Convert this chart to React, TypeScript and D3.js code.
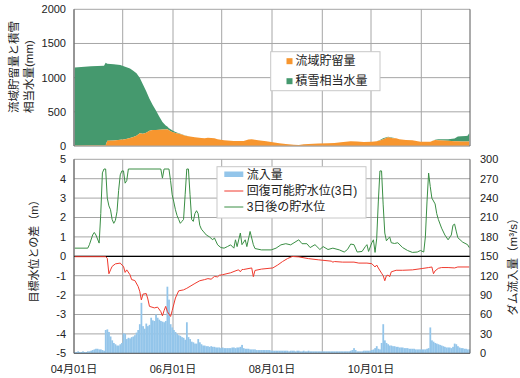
import React from 'react';
import * as d3 from 'd3';

// Day offsets are counted from 04/01; the axis runs through 11/30.
const seasonStart = new Date(2021, 3, 1);
const seasonEnd = new Date(2021, 11, 1);

// Catchment storage and snow water equivalent (mm), shared day list
const topDays = [0, 10, 18, 19, 20, 24, 28, 31, 34, 36, 38, 40, 42, 44, 46, 48, 50, 52, 54, 56, 57, 58, 60, 62, 64, 66, 68, 71, 74, 78, 80, 82, 84, 86, 88, 92, 98, 104, 107, 109, 111, 113, 118, 122, 126, 130, 135, 138, 141, 144, 150, 156, 160, 164, 170, 174, 178, 183, 186, 188, 190, 193, 196, 198, 200, 204, 208, 213, 219, 222, 224, 227, 230, 234, 236, 238, 241, 242, 243];
const storage = [5, 6, 8, 10, 78, 80, 90, 100, 118, 133, 150, 185, 180, 195, 224, 234, 235, 237, 240, 243, 245, 230, 205, 190, 178, 168, 150, 140, 127, 117, 112, 121, 118, 112, 100, 83, 73, 73, 95, 98, 90, 85, 70, 54, 40, 29, 17, 15, 25, 29, 37, 39, 45, 54, 68, 66, 60, 62, 70, 80, 100, 127, 115, 112, 100, 88, 83, 61, 61, 88, 85, 79, 75, 70, 68, 66, 65, 65, 65];
const snow = [1145, 1160, 1167, 1208, 1125, 1117, 1095, 1060, 1017, 967, 913, 815, 720, 605, 466, 366, 285, 193, 110, 57, 40, 30, 25, 15, 10, 5, 2, 0, 0, 0, 0, 0, 0, 0, 0, 0, 0, 0, 0, 0, 0, 0, 0, 0, 0, 0, 0, 0, 0, 0, 0, 0, 0, 0, 0, 0, 0, 0, 0, 8, 12, 8, 5, 0, 0, 0, 0, 0, 0, 5, 15, 20, 22, 40, 70, 75, 80, 85, 120];

// Daily dam inflow (m³/s), one value per day from 04/01
const inflow = [
  2, 2, 3, 2, 2, 3, 2, 2, 3, 3,
  4, 5, 6, 7, 7, 6, 6, 5, 4,
  36, 37, 33,
  26, 20, 16, 14, 12, 12, 14, 16,
  31, 30, 22, 24, 23, 25, 26, 28, 32, 36,
  45, 78, 42, 38, 46, 42, 44, 55, 51, 50,
  60, 55, 52, 50, 49, 48, 50, 103, 83, 45,
  40, 36, 33, 30, 28, 27, 25, 24, 21, 48,
  25, 22, 18, 17, 15, 15, 22, 17, 14, 12,
  12, 11, 11, 10, 11, 10, 10, 9, 9, 9,
  8, 9, 8, 8, 8, 8, 8, 9, 9, 8,
  9, 9, 10, 13, 8, 7, 7, 7, 6, 6,
  6, 6, 5, 5, 5, 5, 5, 5, 5, 5,
  5, 4, 4, 4, 4, 4, 4, 4, 4, 4,
  4, 4, 3, 4, 4, 4, 3, 4, 4, 3,
  3, 4, 3, 3, 4, 3, 3, 3, 3, 3,
  3, 3, 3, 3, 3, 3, 3, 3, 3, 3,
  3, 3, 3, 3, 3, 3, 3, 3, 3, 3,
  4, 5, 8, 5, 3, 3, 3, 3, 4, 4,
  4, 4, 4, 5, 6, 8, 11, 7, 6, 16,
  45, 20, 16, 14, 12, 12, 11, 11, 10, 10,
  9, 9, 9, 8, 8, 8, 7, 7, 7, 7,
  6, 6, 6, 6, 6, 6, 6, 7, 8, 40,
  20, 18, 16, 15, 14, 13, 12, 11, 10, 9,
  9, 9, 8, 10, 15, 14, 11, 9, 8, 8,
  7, 7, 6, 6,
];

// Water level three days ahead, relative to the target level (m)
const levelDays = [0, 8, 9, 11, 12, 13, 15, 16, 17, 18, 19, 20, 21, 22, 23, 24, 25, 26, 27, 28, 29, 30, 31, 32, 33, 53, 54, 55, 58, 59, 60, 61, 62, 63, 64, 65, 66, 67, 68, 69, 70, 71, 72, 73, 74, 75, 76, 77, 78, 79, 80, 81, 83, 85, 86, 88, 90, 92, 94, 96, 98, 99, 100, 102, 103, 105, 106, 108, 110, 111, 115, 121, 124, 127, 130, 133, 138, 140, 143, 145, 148, 151, 153, 156, 159, 163, 166, 168, 170, 172, 174, 177, 179, 180, 181, 183, 184, 185, 186, 187, 188, 189, 190, 191, 192, 193, 194, 195, 197, 199, 202, 205, 208, 211, 213, 215, 216, 217, 218, 219, 220, 222, 223, 224, 226, 228, 230, 232, 233, 234, 235, 236, 239, 242, 243];
const levelIn3Days = [0.42, 0.42, 0.6, 1.1, 1.23, 1.1, 0.68, 2.2, 4.3, 4.5, 4.5, 3.0, 2.6, 2.4, 1.9, 1.7, 1.85, 2.3, 3.4, 4.2, 4.4, 4.4, 3.77, 3.9, 4.5, 4.5, 4.03, 4.5, 4.5, 3.9, 3.17, 2.8, 2.4, 2.1, 1.9, 1.7, 1.8, 1.9, 3.2, 4.5, 4.5, 3.17, 1.9, 1.8, 2.2, 2.35, 2.2, 1.6, 1.4, 1.3, 1.2, 1.1, 1.0, 0.85, 0.95, 0.59, 0.45, 0.42, 0.5, 0.59, 0.42, 0.85, 0.5, 1.2, 0.6, 0.85, 0.5, 1.28, 0.6, 0.4, 0.33, 0.33, 0.42, 0.59, 0.65, 0.59, 0.85, 0.65, 0.65, 0.45, 0.6, 0.35, 0.5, 0.35, 0.42, 0.33, 0.22, 0.35, 0.63, 0.6, 0.22, 0.25, 0.5, 0.6, 0.25, 0.7, 0.85, 0.2, 0.9, 2.8, 4.4, 4.4, 2.65, 1.2, 0.8, 0.9, 1.0, 0.7, 0.66, 0.7, 0.45, 0.3, 0.2, 0.22, 0.3, 0.22, 1.0, 2.8, 4.29, 3.6, 3.0, 2.7, 2.2, 1.9, 1.45, 1.1, 0.85, 1.1, 1.6, 1.66, 1.3, 0.96, 0.73, 0.6, 0.45];

// Recoverable water level within three days, relative to the target level (m)
const recoverDays = [0, 19, 20, 21, 22, 23, 25, 28, 29, 30, 31, 32, 34, 35, 37, 39, 40, 41, 42, 44, 45, 46, 49, 51, 53, 54, 55, 56, 57, 59, 60, 62, 64, 67, 69, 71, 74, 77, 80, 82, 84, 86, 88, 89, 91, 96, 100, 101, 102, 103, 104, 109, 110, 111, 115, 122, 125, 128, 131, 134, 138, 144, 150, 158, 159, 160, 165, 172, 175, 180, 183, 185, 186, 187, 189, 190, 191, 192, 193, 194, 195, 198, 202, 208, 214, 218, 220, 221, 222, 224, 226, 230, 234, 236, 243];
const recoverable = [-0.02, -0.02, -0.1, -0.9, -0.7, -0.52, -0.39, -0.35, -0.45, -0.52, -0.83, -0.7, -0.95, -1.2, -1.25, -1.55, -1.8, -2.25, -1.95, -1.92, -2.2, -2.58, -2.66, -2.62, -2.85, -3.07, -2.8, -2.58, -2.85, -3.1, -2.8, -2.15, -1.78, -1.73, -1.65, -1.55, -1.4, -1.26, -1.2, -1.15, -1.18, -1.04, -1.06, -0.98, -0.95, -0.85, -0.72, -0.7, -0.8, -0.68, -0.68, -0.6, -1.05, -0.73, -0.66, -0.6, -0.45, -0.27, -0.12, -0.01, -0.03, -0.12, -0.18, -0.25, -0.3, -0.27, -0.3, -0.3, -0.35, -0.35, -0.38, -0.55, -0.45, -0.6, -0.87, -1.0, -1.26, -1.0, -0.97, -1.05, -0.8, -0.72, -0.72, -0.7, -0.63, -0.58, -0.55, -0.9, -0.75, -0.62, -0.58, -0.58, -0.6, -0.55, -0.55];

const topTicks = [0, 500, 1000, 1500, 2000];
const levelTicks = [-5, -4, -3, -2, -1, 0, 1, 2, 3, 4, 5];
const inflowTicks = [0, 30, 60, 90, 120, 150, 180, 210, 240, 270, 300];

const COLORS = {
  storage: '#F7962F',
  snow: '#45996E',
  inflow: '#93C5EA',
  recover: '#F03A2E',
  level: '#3A8E44',
  grid: '#A6A6A6',
  axis: '#595959',
};

const FONT = '"Liberation Sans", Arial, "Noto Sans CJK JP", sans-serif';

export default function App() {
  const left = 74;
  const right = 470;
  const totalDays = d3.timeDay.count(seasonStart, seasonEnd);
  const x = d3.scaleLinear().domain([0, totalDays]).range([left, right]);
  const xc = (d: number) => x(d + 0.5);

  const yTop = d3.scaleLinear().domain([0, 2000]).range([146, 9.3]);
  const yLevel = d3.scaleLinear().domain([-5, 5]).range([353.3, 159.3]);
  const yInflow = d3.scaleLinear().domain([0, 300]).range([353.3, 159.3]);

  const monthDates = d3.timeMonth.range(seasonStart, seasonEnd);
  const months = monthDates.map((m) => d3.timeDay.count(seasonStart, m));
  const labelMonths = monthDates.filter((_, i) => i % 2 === 0);
  const fmt = d3.timeFormat('%m月%d日');

  // stacked areas: storage on the bottom, snow on top
  const rows = topDays.map((d, i) => ({ day: d, storage: storage[i], snow: snow[i] }));
  const stacked = d3.stack<any>().keys(['storage', 'snow'])(rows);
  const area = d3
    .area<any>()
    .x((p) => xc(p.data.day))
    .y0((p) => yTop(p[0]))
    .y1((p) => yTop(p[1]));

  const levelLine = d3
    .line<number>()
    .x((_, i) => xc(levelDays[i]))
    .y((v) => yLevel(v));
  const recoverLine = d3
    .line<number>()
    .x((_, i) => xc(recoverDays[i]))
    .y((v) => yLevel(v));

  const topY0 = yTop(2000);
  const topY1 = yTop(0);
  const botY0 = yLevel(5);
  const botY1 = yLevel(-5);

  return (
    <svg
      width={520}
      height={378}
      style={{ position: 'absolute', left: 0, top: 0, background: '#fff' }}
      fontFamily={FONT}
      fontSize={11}
    >
      <rect x={0} y={0} width={520} height={378} fill="#fff" />

      {/* ---------- upper panel: storage and snow ---------- */}
      <g>
        {topTicks.map((t) => (
          <line key={'tg' + t} x1={left} x2={right} y1={yTop(t)} y2={yTop(t)} stroke={COLORS.grid} strokeWidth={1} />
        ))}
        {months.map((m) => (
          <line key={'tv' + m} x1={x(m)} x2={x(m)} y1={topY0} y2={topY1} stroke={COLORS.grid} strokeWidth={1} />
        ))}
        <path d={area(stacked[1] as any) || ''} fill={COLORS.snow} />
        <path d={area(stacked[0] as any) || ''} fill={COLORS.storage} />
        <line x1={left} x2={right} y1={topY1} y2={topY1} stroke={COLORS.grid} strokeWidth={1} />
        <line x1={left} x2={left} y1={topY0} y2={topY1} stroke={COLORS.axis} strokeWidth={1} />
        <line x1={right} x2={right} y1={topY0} y2={topY1} stroke={COLORS.axis} strokeWidth={1} />
        {topTicks.map((t) => (
          <text key={'tl' + t} x={66} y={yTop(t)} dy="0.35em" textAnchor="end" fill="#222">
            {t}
          </text>
        ))}
        <g transform={`translate(14,113) rotate(-90)`} fill="#222" fontSize={11.5}>
          <text x={0} y={0} dy="0.35em" textAnchor="start">流域貯留量と積雪</text>
          <text x={0} y={15} dy="0.35em" textAnchor="start">相当水量(mm)</text>
        </g>
        {/* legend */}
        <rect x={270.7} y={51.7} width={109.3} height={39} fill="#fff" stroke="#C8C8C8" strokeWidth={1} />
        <rect x={286.5} y={58.2} width={6} height={6} fill={COLORS.storage} />
        <text x={295.5} y={61.2} dy="0.35em" fill="#222" fontSize={12}>流域貯留量</text>
        <rect x={286.5} y={78.2} width={6} height={6} fill={COLORS.snow} />
        <text x={295.5} y={81.2} dy="0.35em" fill="#222" fontSize={12}>積雪相当水量</text>
      </g>

      {/* ---------- lower panel: levels and inflow ---------- */}
      <g>
        {levelTicks.map((t) => (
          <line key={'bg' + t} x1={left} x2={right} y1={yLevel(t)} y2={yLevel(t)} stroke={COLORS.grid} strokeWidth={1} />
        ))}
        {months.map((m) => (
          <line key={'bv' + m} x1={x(m)} x2={x(m)} y1={botY0} y2={botY1} stroke={COLORS.grid} strokeWidth={1} />
        ))}
        {inflow.map((q, d) => (
          <rect
            key={'q' + d}
            x={x(d)}
            width={x(d + 1) - x(d) + 0.15}
            y={yInflow(q)}
            height={yInflow(0) - yInflow(q)}
            fill={COLORS.inflow}
          />
        ))}
        <line x1={left} x2={right} y1={yLevel(0)} y2={yLevel(0)} stroke="#000" strokeWidth={1.3} />
        <path d={recoverLine(recoverable) || ''} fill="none" stroke={COLORS.recover} strokeWidth={1} />
        <path d={levelLine(levelIn3Days) || ''} fill="none" stroke={COLORS.level} strokeWidth={1} />
        <line x1={left} x2={right} y1={botY1} y2={botY1} stroke={COLORS.axis} strokeWidth={1} />
        <line x1={left} x2={left} y1={botY0} y2={botY1} stroke={COLORS.axis} strokeWidth={1} />
        <line x1={right} x2={right} y1={botY0} y2={botY1} stroke={COLORS.axis} strokeWidth={1} />

        {levelTicks.map((t) => (
          <text key={'ll' + t} x={66} y={yLevel(t)} dy="0.35em" textAnchor="end" fill="#222">
            {t}
          </text>
        ))}
        {inflowTicks.map((t) => (
          <text key={'rl' + t} x={480} y={yInflow(t)} dy="0.35em" textAnchor="start" fill="#222">
            {t}
          </text>
        ))}
        {labelMonths.map((m) => (
          <text key={'xl' + m.getTime()} x={x(d3.timeDay.count(seasonStart, m))} y={373} textAnchor="middle" fill="#222">
            {fmt(m)}
          </text>
        ))}
        <text transform="translate(34,248.5) rotate(-90)" dy="0.35em" textAnchor="middle" fill="#222">
          目標水位との差（m）
        </text>
        <text transform="translate(512.5,264) rotate(-90)" dy="0.35em" textAnchor="middle" fill="#222" fontSize={11.5}>
          ダム流入量（m³/s）
        </text>

        {/* legend */}
        <rect x={217} y={166.7} width={149} height={51.3} fill="#fff" stroke="#C8C8C8" strokeWidth={1} />
        <rect x={224.3} y={171.5} width={19} height={5.5} fill={COLORS.inflow} />
        <text x={246.7} y={174.3} dy="0.35em" fill="#222" fontSize={12}>流入量</text>
        <line x1={224.3} x2={243.3} y1={191} y2={191} stroke={COLORS.recover} strokeWidth={1} />
        <text x={246.7} y={191} dy="0.35em" fill="#222" fontSize={12}>回復可能貯水位(3日)</text>
        <line x1={224.3} x2={243.3} y1={207} y2={207} stroke={COLORS.level} strokeWidth={1} />
        <text x={246.7} y={207} dy="0.35em" fill="#222" fontSize={12}>3日後の貯水位</text>
      </g>
    </svg>
  );
}
